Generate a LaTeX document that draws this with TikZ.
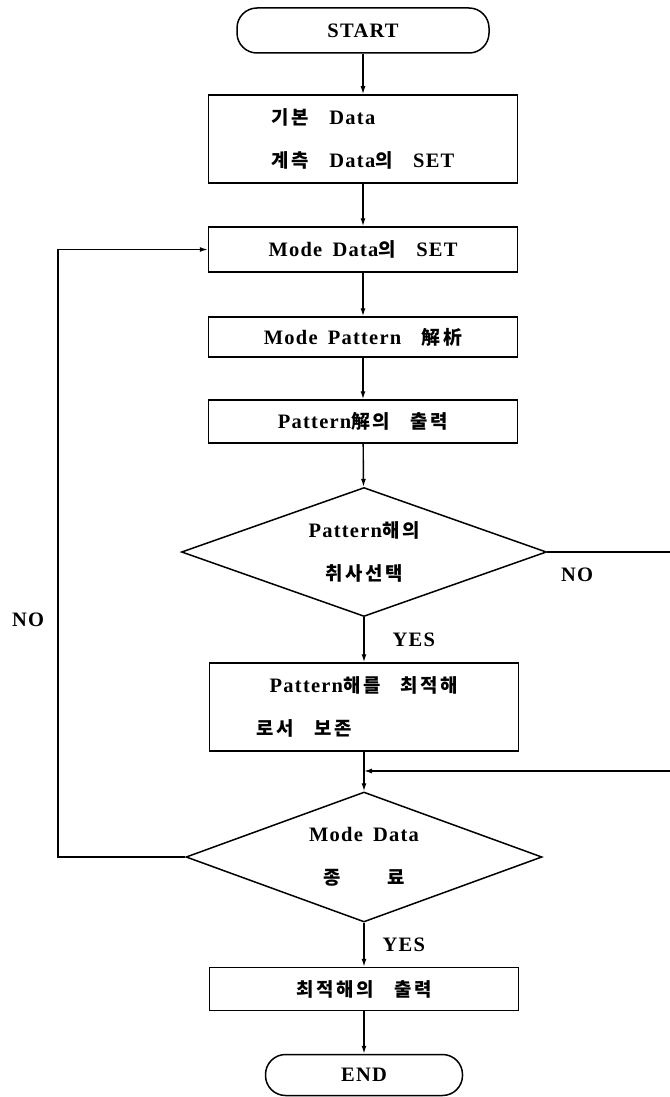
\documentclass[tikz,border=0pt]{standalone}
\usepackage{fontspec}
\setmainfont{Liberation Serif}[LetterSpace=6]
\newfontfamily\kr{Noto Sans CJK KR}[Scale=0.92,LetterSpace=14]
\usetikzlibrary{shapes.geometric,arrows.meta,positioning}
\newcommand{\hg}[1]{{\kr\bfseries #1}}

\begin{document}
\begin{tikzpicture}[x=1pt,y=-1pt,
    every node/.style={font=\fontsize{20.5}{43}\selectfont\bfseries},
    proc/.style={draw,line width=1.5pt,minimum width=309pt,align=left,inner sep=0pt},
    term/.style={draw,line width=1.5pt,rounded corners=20pt,inner sep=0pt},
    decide/.style={draw,diamond,aspect=2.8,line width=1.5pt,inner sep=0pt,align=center},
    flow/.style={line width=1.4pt,-{Latex[length=8pt,width=5pt]}},
    lbl/.style={inner sep=0pt}]
  \useasboundingbox (0,0) rectangle (669,1097);
  % Terminals and steps
  \node[term,minimum width=252pt,minimum height=45pt] (start) at (363,30.5) {START};
  \node[proc,minimum height=88pt] (basic) at (363,139) {\hg{기본}\quad Data\\\hg{계측}\quad Data\hg{의}\quad SET};
  \node[proc,minimum height=45pt] (mset) at (363,249.5) {Mode\enspace Data\hg{의}\quad SET};
  \node[proc,minimum height=40pt] (mpat) at (363,337) {Mode\enspace Pattern\quad\hg{解析}};
  \node[proc,minimum height=43pt] (pout) at (363,421.5) {Pattern\hg{解의}\quad\hg{출력}};
  % Choice of pattern solution
  \node[decide,minimum width=365pt,minimum height=129pt] (sel) at (364,552) {Pattern\hg{해의}\\\hg{취사선택}};
  \node[proc,minimum height=88pt] (keep) at (364,707) {Pattern\hg{해를}\quad\hg{최적해}\\\hspace*{-13pt}\hg{로서}\quad\hg{보존}};
  \coordinate (join) at (364,771);
  % End of mode data
  \node[decide,minimum width=356pt,minimum height=130pt] (fin) at (364,857) {Mode\enspace Data\\\hg{종}\hspace{46pt}\hg{료}};
  \node[proc,minimum height=43pt] (bout) at (364,989) {\hg{최적해의}\quad\hg{출력}};
  \node[term,minimum width=197pt,minimum height=41pt] (end) at (364,1075) {END};
  % Loop corners
  \coordinate (lcorner) at (58,857);
  \coordinate (rcorner) at (690,552);
  % Flow lines
  \draw[flow] (start) -- (basic);
  \draw[flow] (basic) -- (mset);
  \draw[flow] (mset) -- (mpat);
  \draw[flow] (mpat) -- (pout);
  \draw[flow] (pout) -- (sel);
  \draw[flow] (sel) -- node[lbl,right=28pt] (yes1) {YES} (keep);
  \draw[flow] (keep) -- (fin);
  \draw[flow] (sel.east) -- (rcorner) |- (join);
  \draw[flow] (fin.west) -- (lcorner) |- (mset.west);
  \draw[flow] (fin) -- node[lbl,right=18pt] (yes2) {YES} (bout);
  \draw[flow] (bout) -- (end);
  % NO labels
  \node[lbl] (noright) at (577,575) {NO};
  \node[lbl] (noleft) at (28,620) {NO};
\end{tikzpicture}
\end{document}
